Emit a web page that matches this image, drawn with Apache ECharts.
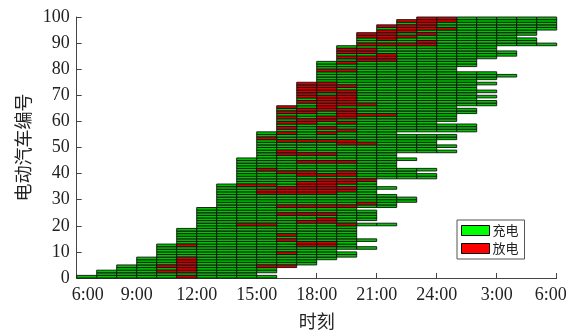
<!DOCTYPE html>
<html>
<head>
<meta charset="utf-8">
<script src="https://cdn.jsdelivr.net/npm/echarts@6/dist/echarts.min.js"></script>
<style>
html, body { margin: 0; padding: 0; background: #fff; }
#main { width: 573px; height: 335px; }
</style>
</head>
<body>
<div id="main"></div>
<script>
// 每辆车的到达时刻（小时，6 = 6:00）
var arriveHour = [6,7,7,8,8,9,9,9,10,10,10,10,10,11,11,11,11,11,11,12,
  12,12,12,12,12,12,12,13,13,13,13,13,13,13,13,13,14,14,14,14,
  14,14,14,14,14,14,15,15,15,15,15,15,15,15,15,15,16,16,16,16,
  16,16,16,16,16,16,17,17,17,17,17,17,17,17,17,18,18,18,18,18,
  18,18,18,19,19,19,19,19,19,20,20,20,20,20,21,21,21,22,22,23];

// 离开时刻（大于 24 为次日）
var departHour = [16,15,16,16,17,18,18,19,20,20,19,21,20,20,21,20,20,20,20,20,
  22,20,21,21,21,21,20,22,22,23,23,22,21,21,22,21,21,21,24,24,
  23,24,22,22,22,23,22,22,25,24,25,24,24,25,25,22,26,26,26,24,
  25,25,25,26,26,25,27,27,26,27,26,27,26,26,27,26,27,28,27,25,
  25,26,26,26,27,28,28,27,27,30,29,29,28,29,29,30,30,30,30,30];

// 放电时段 [车号, 开始, 结束]
var dischargeRuns = [
  [1,11,12],[3,10,12],[4,11,12],[5,10,12],[5,15,17],[6,11,12],[7,11,12],[8,11,12],
  [10,16,17],[13,11,12],[13,17,19],[14,17,19],[15,16,17],[17,16,17],
  [21,14,16],[21,19,20],[22,17,19],[23,18,19],[25,16,19],[28,16,20],[29,20,21],
  [33,15,19],[34,15,20],[35,16,20],[36,14,16],[36,17,19],[37,17,20],[38,18,21],
  [40,17,20],[41,16,18],[41,19,20],[42,15,16],[45,17,20],[48,16,19],[49,16,17],
  [52,19,21],[53,16,20],[54,15,16],[56,16,17],[56,18,19],[57,19,20],[58,16,17],
  [58,18,19],[60,16,18],[60,19,20],[61,17,19],[62,16,17],[62,18,20],[63,19,22],
  [64,16,18],[64,19,20],[65,17,20],[66,16,17],[66,18,19],[67,18,21],[68,17,20],
  [69,18,20],[70,17,20],[71,17,18],[71,19,20],[72,17,20],[73,17,19],[74,17,20],
  [75,17,19],[80,18,20],[83,19,20],[84,20,22],[85,19,22],[86,21,22],[87,19,21],
  [88,19,21],[90,20,24],[91,23,24],[92,21,22],[93,20,23],[94,20,22],[94,23,24],
  [95,21,23],[96,22,25],[97,21,24],[98,23,24],[99,22,25],[100,23,25]
];

var timeTicks = [6, 9, 12, 15, 18, 21, 24, 27, 30];
var timeLabels = ['6:00', '9:00', '12:00', '15:00', '18:00', '21:00', '24:00', '3:00', '6:00'];

function isDischarge(ev, h) {
  return dischargeRuns.some(function (r) {
    return r[0] === ev && h >= r[1] && h < r[2];
  });
}

var chargeCells = [];
var dischargeCells = [];
for (var i = 0; i < arriveHour.length; i++) {
  for (var h = arriveHour[i]; h < departHour[i]; h++) {
    var cell = [h, h + 1, i + 1];
    if (isDischarge(i + 1, h)) dischargeCells.push(cell);
    else chargeCells.push(cell);
  }
}

// 格子颜色比图例略深（原图中细黑边叠在一起）
var cellFill = { '充电': '#00c400', '放电': '#d40000' };

function renderCell(params, api) {
  var p0 = api.coord([api.value(0), api.value(2)]);
  var p1 = api.coord([api.value(1), api.value(2) - 1]);
  return {
    type: 'rect',
    shape: { x: p0[0], y: p0[1], width: p1[0] - p0[0], height: p1[1] - p0[1] },
    style: { fill: cellFill[params.seriesName], stroke: '#111', lineWidth: 0.9 }
  };
}

var serif = 'Liberation Serif';
var cjk = 'Noto Sans CJK SC';

var option = {
  animation: false,
  grid: { left: 76.7, right: 16.3, top: 17, bottom: 54 },
  legend: {
    orient: 'vertical',
    left: 457,
    top: 220,
    icon: 'rect',
    itemWidth: 28,
    itemHeight: 10,
    itemGap: 5,
    padding: [4, 6, 4, 4],
    borderColor: '#555',
    borderWidth: 1,
    itemStyle: { borderColor: '#000', borderWidth: 1 },
    textStyle: { fontFamily: cjk, fontSize: 13, color: '#222', padding: [0, 0, 0, -2] },
    data: ['充电', '放电']
  },
  xAxis: {
    type: 'value',
    min: 6,
    max: 30,
    interval: 3,
    name: '时刻',
    nameLocation: 'middle',
    nameGap: 34,
    nameTextStyle: { fontFamily: cjk, fontSize: 18, color: '#222' },
    splitLine: { show: false },
    axisLine: { lineStyle: { color: '#444', width: 1 } },
    axisTick: { inside: true, length: 5, lineStyle: { color: '#444' } },
    axisLabel: {
      margin: 8,
      fontFamily: serif,
      fontSize: 18,
      color: '#222',
      formatter: function (v) {
        var s = timeLabels[timeTicks.indexOf(v)];
        if (v === 6) return '{first|' + s + '}';
        if (v === 30) return '{last|' + s + '}';
        return s;
      },
      rich: {
        first: { fontFamily: serif, fontSize: 18, color: '#222', padding: [0, 0, 0, 22] },
        last: { fontFamily: serif, fontSize: 18, color: '#222', padding: [0, 12, 0, 0] }
      }
    }
  },
  yAxis: {
    type: 'value',
    min: 0,
    max: 100,
    interval: 10,
    name: '电动汽车编号',
    nameLocation: 'middle',
    nameRotate: 90,
    nameGap: 42,
    nameTextStyle: { fontFamily: cjk, fontSize: 18, color: '#222' },
    splitLine: { show: false },
    axisLine: { lineStyle: { color: '#444', width: 1 } },
    axisTick: { inside: true, length: 5, lineStyle: { color: '#444' } },
    axisLabel: { margin: 7, fontFamily: serif, fontSize: 18, color: '#222' }
  },
  series: [
    {
      name: '充电',
      type: 'custom',
      renderItem: renderCell,
      itemStyle: { color: '#00ff00' },
      encode: { x: [0, 1], y: 2 },
      data: chargeCells
    },
    {
      name: '放电',
      type: 'custom',
      renderItem: renderCell,
      itemStyle: { color: '#ff0000' },
      encode: { x: [0, 1], y: 2 },
      data: dischargeCells
    }
  ]
};

var chart = echarts.init(document.getElementById('main'));
chart.setOption(option);
</script>
</body>
</html>
